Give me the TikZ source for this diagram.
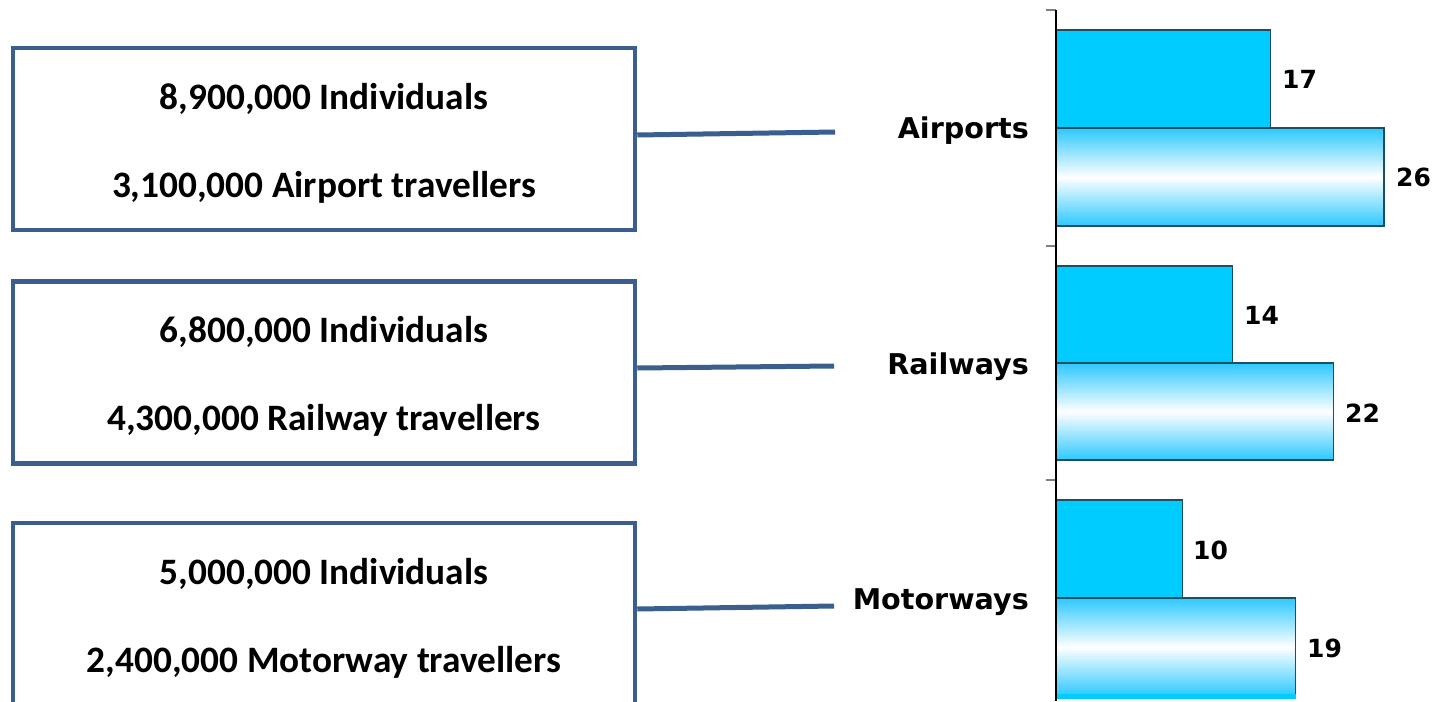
\documentclass[tikz,border=0pt]{standalone}
\usepackage{fontspec}
\newfontfamily\boxfont{Carlito}
\newfontfamily\lblfont{DejaVu Sans}
\definecolor{boxblue}{HTML}{3A5F8F}
\definecolor{barcyan}{HTML}{00CCFF}
\definecolor{gradcyan}{HTML}{2DC8FF}
\definecolor{barline}{HTML}{1F4E5F}
\begin{document}
\begin{tikzpicture}[x=1pt,y=-1pt,
  infobox/.style={draw=boxblue,line width=4.5pt,minimum width=622pt,minimum height=182pt,inner sep=0pt},
  boxtext/.style={inner sep=0pt,align=center,font=\boxfont\bfseries\fontsize{37.3}{88}\selectfont},
  conn/.style={draw=boxblue,line width=5pt},
  catlbl/.style={anchor=east,inner sep=0pt,font=\lblfont\bfseries\fontsize{28.6}{30}\selectfont},
  numlbl/.style={anchor=west,inner sep=0pt,font=\lblfont\bfseries\fontsize{25}{28}\selectfont},
  solidbar/.style={fill=barcyan,draw=barline,line width=1.2pt},
  gradbar/.style={top color=gradcyan,bottom color=gradcyan,middle color=white,draw=barline,line width=1.2pt},
  tick/.style={draw=gray,line width=1.5pt}]
\useasboundingbox (0,0) rectangle (1434,701);
\clip (0,0) rectangle (1434,701);
\fill[white] (0,0) rectangle (1434,701);

% boxes
\node[infobox] (box1) at (324,139) {};
\node[infobox] (box2) at (324,372.5) {};
\node[infobox] (box3) at (324,614) {};
\node[boxtext] (t1) at ([yshift=-4pt]box1.center) {8,900,000 Individuals\\3,100,000 Airport travellers};
\node[boxtext] (t2) at ([yshift=-4pt]box2.center) {6,800,000 Individuals\\4,300,000 Railway travellers};
\node[boxtext] (t3) at ([yshift=-4pt]box3.center) {5,000,000 Individuals\\2,400,000 Motorway travellers};

% category labels
\node[catlbl] (lab1) at (1029,131) {Airports};
\node[catlbl] (lab2) at (1029,367) {Railways};
\node[catlbl] (lab3) at (1029,602) {Motorways};

% connector ends
\coordinate (e1) at (835,132);
\coordinate (e2) at (834,366);
\coordinate (e3) at (834,606);
\draw[conn] ([yshift=4pt]box1.east) -- (e1);
\draw[conn] ([yshift=4.5pt]box2.east) -- (e2);
\draw[conn] ([yshift=5pt]box3.east) -- (e3);

% bars (scale 12.62 px per unit, origin x=1056)
\path[solidbar] (1056,30) rectangle (1270.5,128);
\path[gradbar] (1056,128) rectangle (1384,226);
\path[solidbar] (1056,266) rectangle (1232.7,363);
\path[gradbar] (1056,363) rectangle (1333.6,460);
\path[solidbar] (1056,500) rectangle (1182.2,598);
\path[gradbar] (1056,598) rectangle (1295.8,696);
\fill[barcyan] (1056,694) rectangle (1296,699);

% value labels
\node[numlbl] (v1) at (1282,79) {17};
\node[numlbl] (v2) at (1396,177) {26};
\node[numlbl] (v3) at (1244,315) {14};
\node[numlbl] (v4) at (1345,413) {22};
\node[numlbl] (v5) at (1193,550) {10};
\node[numlbl] (v6) at (1307,648) {19};

% axis
\draw[tick] (1046,10) -- (1056,10);
\draw[tick] (1046,246) -- (1056,246);
\draw[tick] (1046,480) -- (1056,480);
\draw[black,line width=1.8pt] (1056,10) -- (1056,701);
\end{tikzpicture}
\end{document}
